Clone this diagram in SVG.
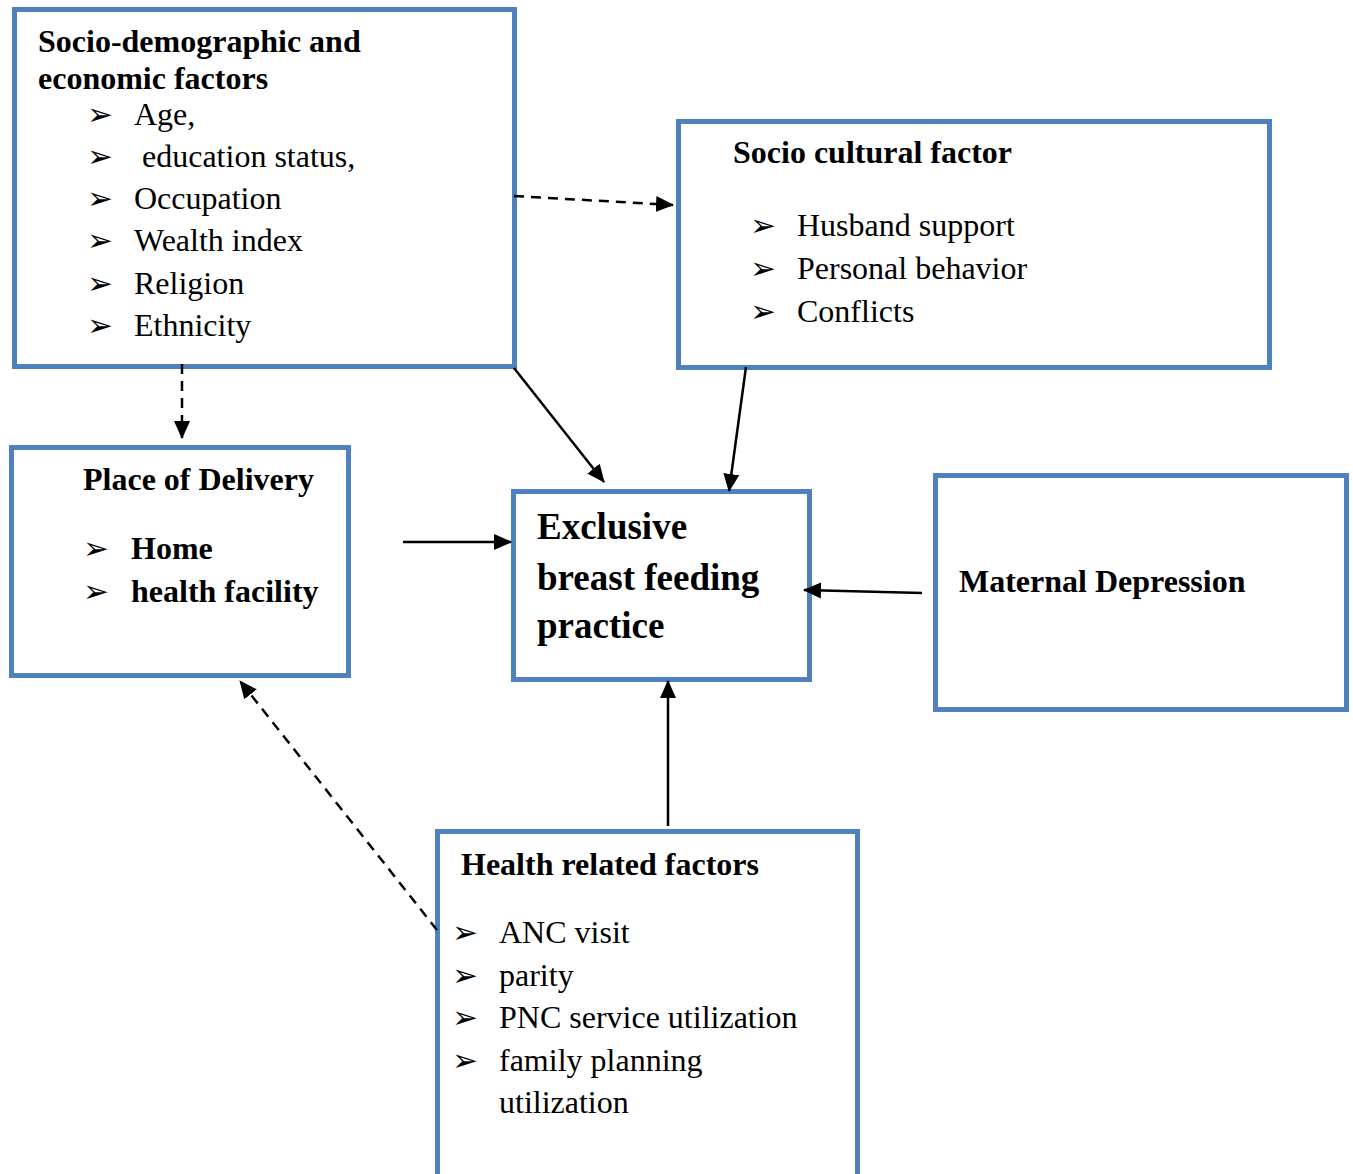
<svg xmlns="http://www.w3.org/2000/svg" width="1353" height="1174" viewBox="0 0 1353 1174">
<style>
.box{fill:#fff;stroke:#4F81BD;stroke-width:5}
.t{font-family:"Liberation Serif","Times New Roman",serif;font-size:32px;fill:#000}
.b{font-weight:bold}
.big{font-size:37px;font-weight:bold}
.bl{font-family:"DejaVu Sans",sans-serif;font-size:31px;fill:#000}
.c{stroke:#000;stroke-width:2.5;fill:none}
.d{stroke-dasharray:10,7}
</style>
<defs>
<marker id="ah" markerUnits="userSpaceOnUse" markerWidth="18" markerHeight="18" viewBox="0 0 18 18" refX="17" refY="9" orient="auto">
<path d="M0,1 L18,9 L0,17 Z" fill="#000"/>
</marker>
</defs>
<rect width="1353" height="1174" fill="#fff"/>
<g id="socio-demographic">
<rect class="box" x="14.5" y="9.5" width="500" height="357"/>
<text class="t b" x="38" y="52">Socio-demographic and</text>
<text class="t b" x="38" y="89">economic factors</text>
<text class="bl" x="87" y="125">➢</text><text class="t" x="134" y="125">Age,</text>
<text class="bl" x="87" y="167">➢</text><text class="t" x="142" y="167">education status,</text>
<text class="bl" x="87" y="209">➢</text><text class="t" x="134" y="209">Occupation</text>
<text class="bl" x="87" y="251">➢</text><text class="t" x="134" y="251">Wealth index</text>
<text class="bl" x="87" y="294">➢</text><text class="t" x="134" y="294">Religion</text>
<text class="bl" x="87" y="336">➢</text><text class="t" x="134" y="336">Ethnicity</text>
</g>
<g id="socio-cultural">
<rect class="box" x="678.5" y="121.5" width="591" height="246"/>
<text class="t b" x="733" y="163">Socio cultural factor</text>
<text class="bl" x="750" y="236">➢</text><text class="t" x="797" y="236">Husband support</text>
<text class="bl" x="750" y="279">➢</text><text class="t" x="797" y="279">Personal behavior</text>
<text class="bl" x="750" y="322">➢</text><text class="t" x="797" y="322">Conflicts</text>
</g>
<g id="place-of-delivery">
<rect class="box" x="11.5" y="447.5" width="337" height="228"/>
<text class="t b" x="83" y="490">Place of Delivery</text>
<text class="bl" x="83" y="559">➢</text><text class="t b" x="131" y="559">Home</text>
<text class="bl" x="83" y="602">➢</text><text class="t b" x="131" y="602">health facility</text>
</g>
<g id="ebf">
<rect class="box" x="513.5" y="491.5" width="296" height="188"/>
<text class="t big" x="537" y="539">Exclusive</text>
<text class="t big" x="537" y="590">breast feeding</text>
<text class="t big" x="537" y="638">practice</text>
</g>
<g id="maternal-depression">
<rect class="box" x="935.5" y="475.5" width="411" height="234"/>
<text class="t b" x="959" y="592">Maternal Depression</text>
</g>
<g id="health-related">
<rect class="box" x="437.5" y="831.5" width="420" height="345"/>
<text class="t b" x="461" y="875">Health related factors</text>
<text class="bl" x="452" y="943">➢</text><text class="t" x="499" y="943">ANC visit</text>
<text class="bl" x="452" y="986">➢</text><text class="t" x="499" y="986">parity</text>
<text class="bl" x="452" y="1028">➢</text><text class="t" x="499" y="1028">PNC service utilization</text>
<text class="bl" x="452" y="1071">➢</text><text class="t" x="499" y="1071">family planning</text>
<text class="t" x="499" y="1113">utilization</text>
</g>
<g id="connectors">
<line class="c d" x1="514" y1="196" x2="673" y2="205" marker-end="url(#ah)"/>
<line class="c d" x1="182" y1="364" x2="182" y2="438" marker-end="url(#ah)"/>
<line class="c" x1="514" y1="368" x2="604" y2="482" marker-end="url(#ah)"/>
<line class="c" x1="746" y1="367" x2="729" y2="491" marker-end="url(#ah)"/>
<line class="c" x1="403" y1="542" x2="511" y2="542" marker-end="url(#ah)"/>
<line class="c" x1="922" y1="593" x2="804" y2="590" marker-end="url(#ah)"/>
<line class="c" x1="668" y1="826" x2="668" y2="681" marker-end="url(#ah)"/>
<line class="c d" x1="437" y1="930" x2="240" y2="681" marker-end="url(#ah)"/>
</g>
</svg>
